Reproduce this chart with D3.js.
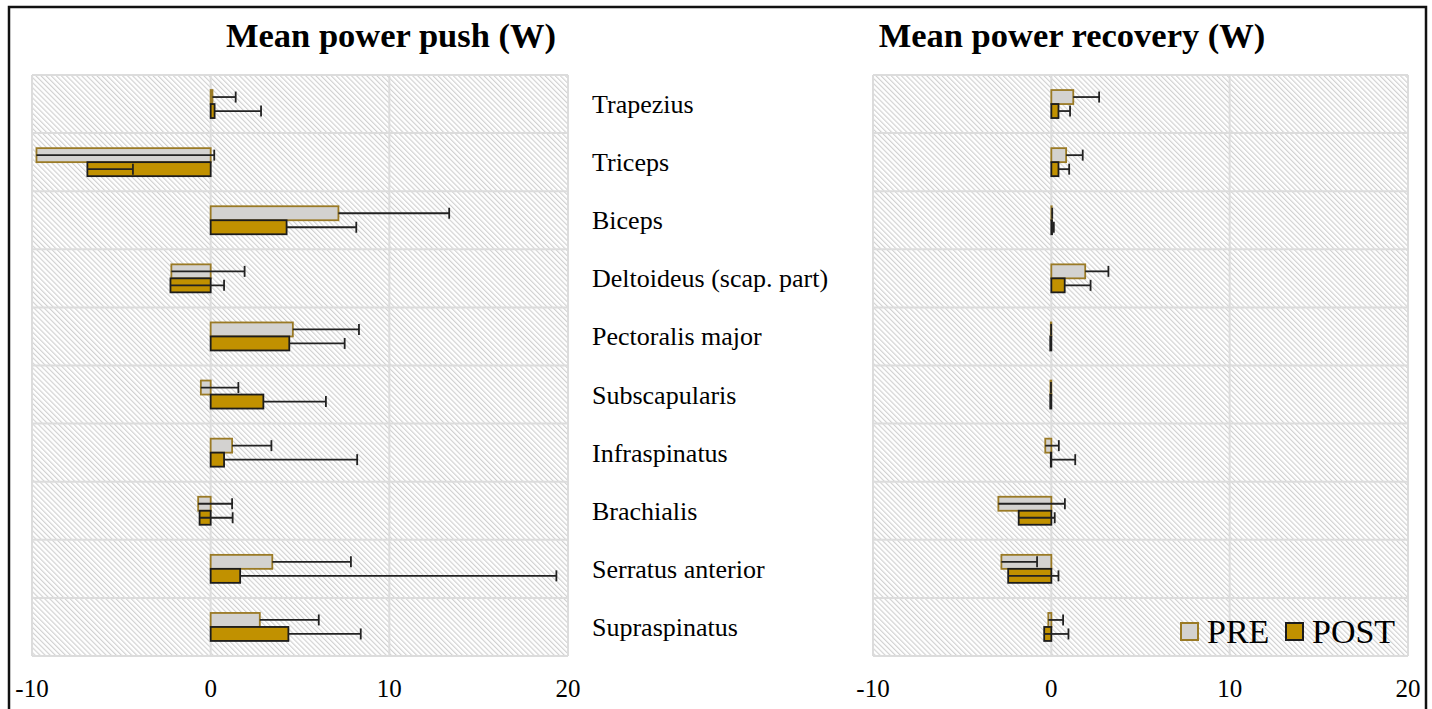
<!DOCTYPE html>
<html>
<head>
<meta charset="utf-8">
<script src="https://cdn.jsdelivr.net/npm/d3@7"></script>
<style>
  body { margin: 0; background: #fff; }
  svg { display: block; font-family: "Liberation Serif", "Times New Roman", serif; }
</style>
</head>
<body>
<svg id="chart" width="1432" height="709"></svg>
<script>
// muscles, top to bottom
const muscles = ["Trapezius", "Triceps", "Biceps", "Deltoideus (scap. part)", "Pectoralis major",
  "Subscapularis", "Infraspinatus", "Brachialis", "Serratus anterior", "Supraspinatus"]

// mean power during push (W) and SD
const pushPre    = [0.1, -9.75, 7.15, -2.2, 4.6, -0.55, 1.2, -0.7, 3.45, 2.75]
const pushPreSd  = [1.3, 9.95, 6.2, 4.1, 3.7, 2.1, 2.2, 1.9, 4.4, 3.3]
const pushPost   = [0.22, -6.9, 4.25, -2.25, 4.4, 2.95, 0.75, -0.62, 1.65, 4.35]
const pushPostSd = [2.6, 2.55, 3.9, 3.0, 3.1, 3.5, 7.45, 1.85, 17.7, 4.05]

// mean power during recovery (W) and SD
const recPre    = [1.23, 0.83, 0.02, 1.9, -0.03, -0.05, -0.34, -2.97, -2.8, -0.17]
const recPreSd  = [1.45, 0.93, 0.03, 1.3, 0.02, 0.03, 0.76, 3.73, 2.0, 0.83]
const recPost   = [0.4, 0.4, 0.04, 0.75, -0.06, -0.06, -0.03, -1.83, -2.42, -0.4]
const recPostSd = [0.65, 0.6, 0.1, 1.45, 0.04, 0.04, 1.37, 2.02, 2.82, 1.36]

const xTicks = [-10, 0, 10, 20]
const series = ["PRE", "POST"]

const svg = d3.select("#chart")

// diagonal hatch for plot background
const defs = svg.append("defs")
const pat = defs.append("pattern")
  .attr("id", "hatch")
  .attr("patternUnits", "userSpaceOnUse")
  .attr("width", 3.6).attr("height", 3.6)
  .attr("patternTransform", "rotate(-45)")
pat.append("rect").attr("width", 3.6).attr("height", 3.6).attr("fill", "#fff")
pat.append("line")
  .attr("x1", 0.6).attr("y1", 0).attr("x2", 0.6).attr("y2", 3.6)
  .attr("stroke", "#cfcfcf").attr("stroke-width", 1.1)

const plotTop = 75, plotBottom = 656

function panel(x0, x1, title, titleX, pre, preSd, post, postSd) {
  const x = d3.scaleLinear().domain([-10, 20]).range([x0, x1])
  const y = d3.scaleBand().domain(muscles).range([plotTop, plotBottom])
  const g = svg.append("g")

  g.append("rect")
    .attr("x", x0).attr("y", plotTop)
    .attr("width", x1 - x0).attr("height", plotBottom - plotTop)
    .attr("fill", "url(#hatch)")

  // grid
  g.selectAll(".vgrid").data(xTicks).enter().append("line")
    .attr("x1", d => x(d)).attr("x2", d => x(d))
    .attr("y1", plotTop).attr("y2", plotBottom)
    .attr("stroke", "#dcdcdc").attr("stroke-width", 2)
  g.selectAll(".hgrid").data(d3.range(muscles.length + 1)).enter().append("line")
    .attr("x1", x0).attr("x2", x1)
    .attr("y1", i => plotTop + i * y.step()).attr("y2", i => plotTop + i * y.step())
    .attr("stroke", "#dcdcdc").attr("stroke-width", 2)

  const bh = 14
  const rows = muscles.map((m, i) => ({m, pre: pre[i], preSd: preSd[i], post: post[i], postSd: postSd[i]}))

  rows.forEach(d => {
    const cy = y(d.m) + y.bandwidth() / 2
    // PRE bar
    g.append("rect")
      .attr("x", x(Math.min(0, d.pre))).attr("y", cy - bh)
      .attr("width", Math.abs(x(d.pre) - x(0))).attr("height", bh)
      .attr("fill", "#d3d2d0").attr("stroke", "#9a7a25").attr("stroke-width", 1.8)
    // POST bar
    g.append("rect")
      .attr("x", x(Math.min(0, d.post))).attr("y", cy)
      .attr("width", Math.abs(x(d.post) - x(0))).attr("height", bh)
      .attr("fill", "#c19100").attr("stroke", "#1c1c1c").attr("stroke-width", 1.8)

    // one sided error bars (mean + SD)
    ;[[d.pre, d.preSd, cy - bh / 2], [d.post, d.postSd, cy + bh / 2]].forEach(([v, sd, ey]) => {
      const xe = x(v + sd)
      g.append("line")
        .attr("x1", x(v)).attr("x2", xe).attr("y1", ey).attr("y2", ey)
        .attr("stroke", "#222").attr("stroke-width", 1.8)
      g.append("line")
        .attr("x1", xe).attr("x2", xe).attr("y1", ey - 5.5).attr("y2", ey + 5.5)
        .attr("stroke", "#222").attr("stroke-width", 1.8)
    })
  })

  // tick labels
  g.selectAll(".tick").data(xTicks).enter().append("text")
    .attr("x", d => x(d)).attr("y", 697)
    .attr("text-anchor", "middle")
    .attr("font-size", 25)
    .text(d => d)

  g.append("text")
    .attr("x", titleX).attr("y", 47)
    .attr("text-anchor", "middle")
    .attr("font-size", 34.5).attr("font-weight", "bold")
    .text(title)

  return {x, y}
}

const left = panel(32, 568, "Mean power push (W)", 391, pushPre, pushPreSd, pushPost, pushPostSd)
panel(873, 1408, "Mean power recovery (W)", 1072, recPre, recPreSd, recPost, recPostSd)

// muscle names between the panels
svg.selectAll(".cat").data(muscles).enter().append("text")
  .attr("x", 592)
  .attr("y", d => left.y(d) + left.y.bandwidth() / 2 + 9)
  .attr("font-size", 26)
  .text(d => d)

// legend
const leg = svg.append("g")
const legX = [1181, 1286]
const legFill = ["#d3d2d0", "#c19100"]
const legStroke = ["#9a7a25", "#1c1c1c"]
series.forEach((s, i) => {
  leg.append("rect")
    .attr("x", legX[i]).attr("y", 623).attr("width", 17).attr("height", 17)
    .attr("fill", legFill[i]).attr("stroke", legStroke[i]).attr("stroke-width", 2)
  leg.append("text")
    .attr("x", legX[i] + 26).attr("y", 643)
    .attr("font-size", 34)
    .text(s)
})

// outer frame (open at the bottom)
svg.append("path")
  .attr("d", "M9,712V7H1426V712")
  .attr("fill", "none").attr("stroke", "#111").attr("stroke-width", 2.5)
</script>
</body>
</html>
